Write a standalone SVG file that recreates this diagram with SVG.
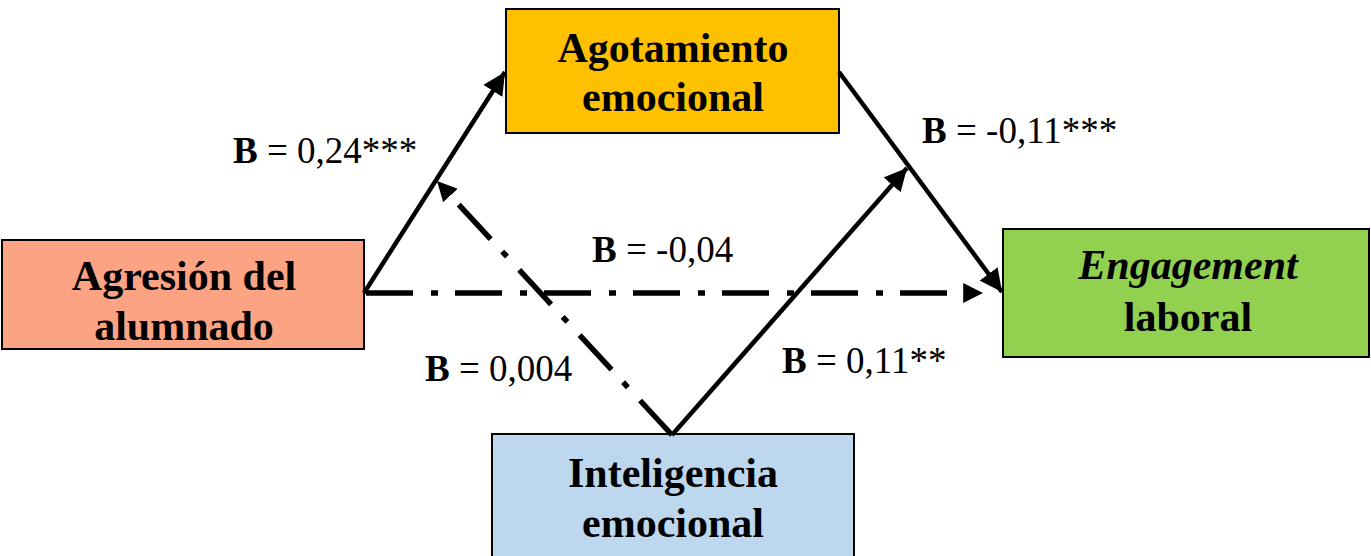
<svg xmlns="http://www.w3.org/2000/svg" width="1371" height="556" viewBox="0 0 1371 556">
<style>
.box{stroke:#000;stroke-width:2}
.nt{font-family:"Liberation Serif","Times New Roman",serif;font-weight:bold;font-size:42px;text-anchor:middle;fill:#000}
.lb{font-family:"Liberation Serif","Times New Roman",serif;font-size:37px;fill:#000}
.solid{stroke:#000;stroke-width:4.5;fill:none}
.dash{stroke:#000;stroke-width:5.5;fill:none;stroke-dasharray:47 18 7 17}
</style>
<defs>
<marker id="ah" viewBox="0 0 10 10" refX="10" refY="5" markerWidth="5" markerHeight="5" markerUnits="strokeWidth" orient="auto">
<path d="M0,0 L10,5 L0,10 Z" fill="#000"/>
</marker>
<marker id="ahd" viewBox="0 0 10 10" refX="10" refY="5" markerWidth="3.6" markerHeight="3.6" markerUnits="strokeWidth" orient="auto">
<path d="M0,0 L10,5 L0,10 Z" fill="#000"/>
</marker>
</defs>
<rect width="1371" height="556" fill="#fff"/>
<g id="n-agresion">
<rect class="box" x="2" y="240" width="362" height="109" fill="#FBA383"/>
<text class="nt" x="184" y="290">Agresión del</text>
<text class="nt" x="184" y="340">alumnado</text>
</g>
<g id="n-agotamiento">
<rect class="box" x="506" y="9" width="333" height="124" fill="#FFC000"/>
<text class="nt" x="673" y="62">Agotamiento</text>
<text class="nt" x="673" y="111">emocional</text>
</g>
<g id="n-engagement">
<rect class="box" x="1003" y="229" width="366" height="128" fill="#92D050"/>
<text class="nt" x="1188" y="279"><tspan font-style="italic">Engagement</tspan></text>
<text class="nt" x="1188" y="331">laboral</text>
</g>
<g id="n-inteligencia">
<rect class="box" x="492" y="434" width="362" height="130" fill="#BDD7EE"/>
<text class="nt" x="673" y="487">Inteligencia</text>
<text class="nt" x="673" y="537">emocional</text>
</g>
<g id="connectors">
<line class="solid" x1="364" y1="293" x2="505" y2="72" marker-end="url(#ah)"/>
<line class="solid" x1="839" y1="72" x2="1002" y2="292" marker-end="url(#ah)"/>
<line class="solid" x1="672" y1="435" x2="907" y2="168" marker-end="url(#ah)"/>
<line class="dash" x1="672" y1="435" x2="437" y2="181" marker-end="url(#ahd)"/>
<line class="dash" x1="366" y1="293" x2="983" y2="293" marker-end="url(#ahd)"/>
</g>
<g id="labels">
<text class="lb" x="233" y="163"><tspan font-weight="bold">B</tspan> = 0,24***</text>
<text class="lb" x="922" y="143"><tspan font-weight="bold">B</tspan> = -0,11***</text>
<text class="lb" x="592" y="262"><tspan font-weight="bold">B</tspan> = -0,04</text>
<text class="lb" x="782" y="373"><tspan font-weight="bold">B</tspan> = 0,11**</text>
<text class="lb" x="425" y="381"><tspan font-weight="bold">B</tspan> = 0,004</text>
</g>
</svg>
